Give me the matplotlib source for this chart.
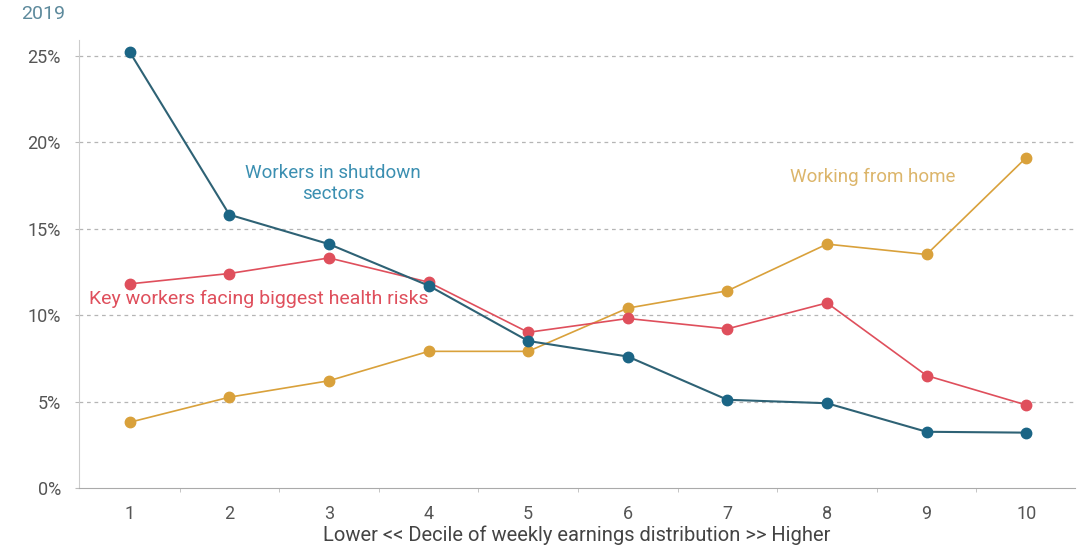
import matplotlib.pyplot as plt
from matplotlib.ticker import FixedLocator

plt.rcParams['font.family'] = ['Roboto', 'DejaVu Sans']

# Deciles of weekly earnings distribution
deciles = [1, 2, 3, 4, 5, 6, 7, 8, 9, 10]
tick_labels = ['1', '2', '3', '4', '5', '6', '7', '8', '9', '10']

# Share of employees in each decile (%)
shutdown_sectors = [25.2, 15.8, 14.1, 11.7, 8.5, 7.6, 5.1, 4.9, 3.25, 3.2]
key_workers = [11.8, 12.4, 13.3, 11.9, 9.0, 9.8, 9.2, 10.7, 6.5, 4.8]
work_from_home = [3.8, 5.25, 6.2, 7.9, 7.9, 10.4, 11.4, 14.1, 13.5, 19.1]

y_ticks = [0, 5, 10, 15, 20, 25]

blue = '#1b6585'
red = '#df4f5c'
gold = '#d9a13b'

fig = plt.figure(figsize=(10.79, 5.45), dpi=100)
ax = fig.add_axes([0.0732, 0.1046, 0.9231, 0.822])

ax.plot(deciles, work_from_home, color=gold, lw=1.2, marker='o', ms=7.5, zorder=3)
ax.plot(deciles, key_workers, color=red, lw=1.2, marker='o', ms=7.5, zorder=4)
ax.plot(deciles, shutdown_sectors, color='#2e6275', lw=1.5, marker='o', ms=7.5,
        mfc=blue, mec=blue, zorder=5)

# Series labels placed next to the lines
ax.text(3.04, 17.6, 'Workers in shutdown\nsectors', color='#3b8fb1', fontsize=13.5,
        ha='center', va='center', linespacing=1.2)
ax.text(8.46, 18.0, 'Working from home', color='#dcb56a', fontsize=13.5,
        ha='center', va='center')
ax.text(0.59, 10.95, 'Key workers facing biggest health risks', color=red, fontsize=14,
        ha='left', va='center')

ax.set_xlim(0.49, 10.49)
ax.set_ylim(0, 25.9)
ax.set_xticks(deciles)
ax.set_xticklabels(tick_labels)
ax.xaxis.set_minor_locator(FixedLocator([d + 0.5 for d in deciles[:-1]]))
ax.set_yticks(y_ticks)
ax.set_yticklabels([f'{v}%' for v in y_ticks])

ax.tick_params(axis='x', which='major', length=0, pad=12, labelsize=13, labelcolor='#555555')
ax.tick_params(axis='x', which='minor', length=3, color='#bbbbbb', direction='out')
ax.tick_params(axis='y', length=3, color='#bbbbbb', pad=10, labelsize=13, labelcolor='#555555')

for v in y_ticks[1:]:
    ax.axhline(v, color='#b5b5b5', lw=0.9, ls=(0, (3, 3)), zorder=1)

for side in ['top', 'right']:
    ax.spines[side].set_visible(False)
ax.spines['left'].set_color('#cccccc')
ax.spines['bottom'].set_color('#aaaaaa')

ax.set_xlabel('Lower << Decile of weekly earnings distribution >> Higher',
              fontsize=14.5, color='#444444', labelpad=2)

fig.text(0.02, 0.975, '2019', fontsize=14, color='#5d8a9c', ha='left', va='center')

fig.savefig('out.png', dpi=100, facecolor='white')
